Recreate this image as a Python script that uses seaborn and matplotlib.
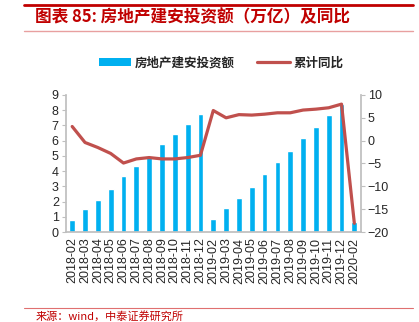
import numpy as np
import pandas as pd
import matplotlib
matplotlib.use("Agg")
import matplotlib.pyplot as plt
import seaborn as sns
from matplotlib.lines import Line2D
from matplotlib.patches import Patch

categories = ["2018-02", "2018-03", "2018-04", "2018-05", "2018-06", "2018-07",
              "2018-08", "2018-09", "2018-10", "2018-11", "2018-12",
              "2019-02", "2019-03", "2019-04", "2019-05", "2019-06", "2019-07",
              "2019-08", "2019-09", "2019-10", "2019-11", "2019-12", "2020-02"]
investment = [0.82, 1.5, 2.1, 2.8, 3.65, 4.32, 5.0, 5.76, 6.45, 7.12, 7.78,
              0.87, 1.57, 2.21, 2.94, 3.84, 4.6, 5.34, 6.16, 6.91, 7.66, 8.39, 0.66]
yoy = [3.1, -0.4, -1.5, -2.8, -4.9, -4.0, -3.7, -4.0, -4.0, -3.7, -3.2,
       6.6, 5.0, 5.7, 5.6, 5.8, 6.1, 6.1, 6.7, 6.9, 7.2, 8.0, -18.1]
left_ticks = [0, 1, 2, 3, 4, 5, 6, 7, 8, 9]
right_ticks = [-20, -15, -10, -5, 0, 5, 10]

bar_label = "房地产建安投资额"
line_label = "累计同比"
title = "图表 85: 房地产建安投资额（万亿）及同比"
source = "来源：wind，中泰证券研究所"

sns.set_theme(style="white")
plt.rcParams["font.family"] = ["Liberation Sans", "Noto Sans CJK SC", "DejaVu Sans"]

BLUE = "#00B0F0"
RED = "#C0504D"
GRID = "#BFBFBF"

df = pd.DataFrame({"pos": np.arange(len(categories)), "cat": categories,
                   "inv": investment, "yoy": yoy})

fig = plt.figure(figsize=(4.19, 3.22), dpi=100)
ax = fig.add_axes([0.157, 0.2795, 0.704, 0.4255])
sns.barplot(data=df, x="pos", y="inv", ax=ax, color=BLUE, width=0.45,
            saturation=1, native_scale=True)
ax2 = ax.twinx()
sns.lineplot(data=df, x="pos", y="yoy", ax=ax2, color=RED, linewidth=2.3,
             sort=False)

ax.set_xlim(-0.5, len(categories) - 0.5)
ax.set_ylim(0, 9)
ax2.set_ylim(-20, 10)
ax.set_yticks(left_ticks)
ax2.set_yticks(right_ticks)
ax.set_xticks(df["pos"])
ax.set_xticklabels(categories, rotation=90, fontsize=9)
ax.set_xticks(np.arange(len(categories) + 1) - 0.5, minor=True)
ax.tick_params(axis="x", which="major", length=0, pad=4)
ax.tick_params(axis="x", which="minor", length=3, color=GRID, width=0.8, direction="out")
ax.tick_params(axis="y", length=3, color=GRID, width=0.8, labelsize=9, pad=2, left=True)
ax2.tick_params(axis="y", length=3, color=GRID, width=0.8, labelsize=9, pad=2, right=True)
for a in (ax, ax2):
    a.set_xlabel("")
    a.set_ylabel("")
    for s in a.spines.values():
        s.set_visible(False)
ax.spines["left"].set_visible(True)
ax.spines["left"].set_color(GRID)
ax.spines["bottom"].set_visible(True)
ax.spines["bottom"].set_color(GRID)
ax2.spines["right"].set_visible(True)
ax2.spines["right"].set_color(GRID)
ax.grid(False)
ax2.grid(False)

handles = [Patch(facecolor=BLUE, edgecolor="none"),
           Line2D([0], [0], color=RED, linewidth=2.3)]
fig.legend(handles, [bar_label, line_label], loc="center", ncol=2,
           bbox_to_anchor=(0.528, 0.804), frameon=False,
           prop={"family": ["Noto Sans CJK SC"], "weight": "bold", "size": 9},
           handlelength=2.6, handleheight=0.6, columnspacing=1.8, handletextpad=0.3)

# header and footer decorations
fig.add_artist(Line2D([0.057, 0.986], [1 - 4.5 / 322] * 2, color="#C00000", linewidth=2))
fig.add_artist(Line2D([0.057, 0.986], [1 - 31 / 322] * 2, color="#E8A0A0", linewidth=1))
fig.add_artist(Line2D([0.057, 0.986], [1 - 308 / 322] * 2, color="#E07070", linewidth=0.8))
fig.text(0.084, 1 - 17 / 322, title, color="#C00000", fontsize=12, fontweight="bold",
         va="center", ha="left", family=["Noto Sans CJK SC", "DejaVu Sans"])
fig.text(0.084, 1 - 316 / 322, source, color="#C00000", fontsize=8,
         va="center", ha="left", family=["Noto Sans CJK SC", "DejaVu Sans"])

fig.savefig("out.png", dpi=100)
